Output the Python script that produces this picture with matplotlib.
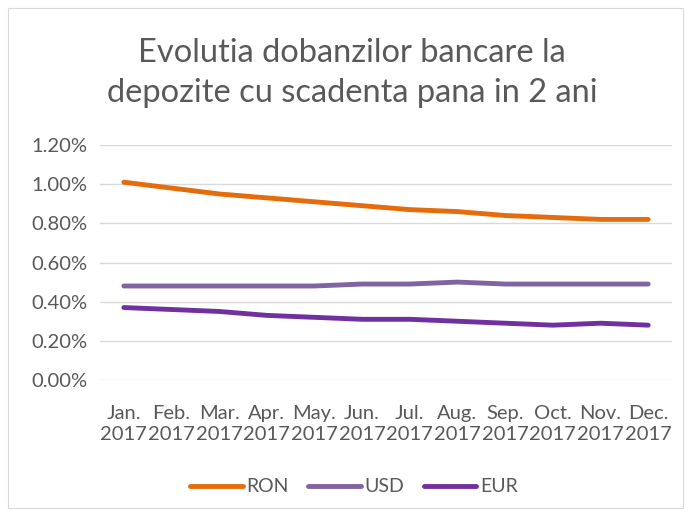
import numpy as np
import matplotlib.pyplot as plt
from matplotlib.patches import Rectangle

months = ["Jan.\n2017", "Feb.\n2017", "Mar.\n2017", "Apr.\n2017", "May.\n2017", "Jun.\n2017",
          "Jul.\n2017", "Aug.\n2017", "Sep.\n2017", "Oct.\n2017", "Nov.\n2017", "Dec.\n2017"]
ron = [1.01, 0.98, 0.95, 0.93, 0.91, 0.89, 0.87, 0.86, 0.84, 0.83, 0.82, 0.82]
usd = [0.48, 0.48, 0.48, 0.48, 0.48, 0.49, 0.49, 0.50, 0.49, 0.49, 0.49, 0.49]
eur = [0.37, 0.36, 0.35, 0.33, 0.32, 0.31, 0.31, 0.30, 0.29, 0.28, 0.29, 0.28]

plt.rcParams['font.family'] = ['Lato', 'DejaVu Sans']
grey = '#595959'

fig = plt.figure(figsize=(6.89, 5.16), dpi=100)
fig.patches.append(Rectangle((8/689, 8/516), 675/689, 500/516, transform=fig.transFigure,
                             fill=False, edgecolor='#d9d9d9', linewidth=0.8))
ax = fig.add_axes([100/689, 1 - 380/516, 572/689, 235/516])

x = np.arange(len(months))
ax.plot(x, ron, color='#E46C0A', lw=3.5, solid_capstyle='round', label='RON')
ax.plot(x, usd, color='#8064A2', lw=3.5, solid_capstyle='round', label='USD')
ax.plot(x, eur, color='#7030A0', lw=3.5, solid_capstyle='round', label='EUR')

ax.set_xlim(-0.5, len(months) - 0.5)
ax.set_ylim(0, 1.2)
yt = np.arange(0, 1.21, 0.2)
ax.set_yticks(yt)
ax.set_yticklabels(["%.2f%%" % v for v in yt], color=grey, fontsize=14.5)
ax.set_xticks(x)
ax.set_xticklabels(months, color=grey, fontsize=14.5, linespacing=1.25)
ax.tick_params(axis='y', length=0, pad=9)
ax.tick_params(axis='x', length=0, pad=18)
ax.grid(axis='y', color='#d9d9d9', lw=1)
for s in ax.spines.values():
    s.set_visible(False)
ax.set_axisbelow(True)

fig.text(352/689, 1 - 73/516, "Evolutia dobanzilor bancare la\ndepozite cu scadenta pana in 2 ani",
         ha='center', va='center', fontsize=23.5, color=grey, linespacing=1.45)
fig.legend(loc='center', bbox_to_anchor=(354/689, 1 - 487/516), ncol=3, frameon=False,
           fontsize=14, labelcolor=grey, handlelength=2.7, columnspacing=1.0, handletextpad=0.2)

fig.savefig('out.png', dpi=100)
